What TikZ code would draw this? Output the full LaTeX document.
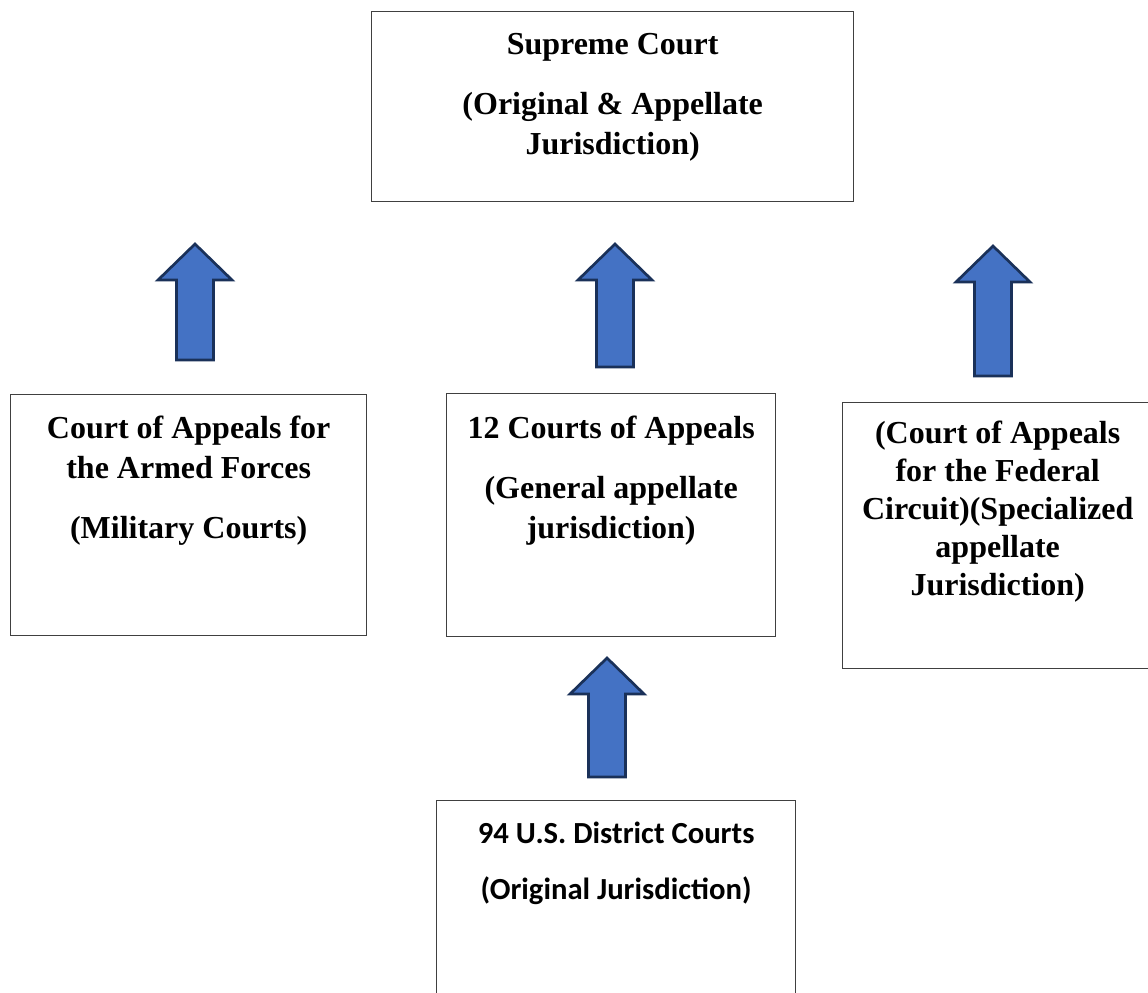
\documentclass[tikz,border=0pt]{standalone}
\usepackage{fontspec}
\setmainfont{Liberation Serif}
\newfontfamily\calibri{Carlito}
\usepackage{xcolor}
\usetikzlibrary{positioning}

\definecolor{arrowfill}{HTML}{4472C4}
\definecolor{arrowline}{HTML}{1A3159}
\definecolor{boxline}{HTML}{404040}

% block arrow pointing up: centre x, tip y, foot y
\newcommand\blockup[3]{%
  \draw[arr] (#1-18.5,#3) -- (#1-18.5,#2+36) -- (#1-37,#2+36) -- (#1,#2)
    -- (#1+37,#2+36) -- (#1+18.5,#2+36) -- (#1+18.5,#3) -- cycle;}

\begin{document}
\begin{tikzpicture}[
  x=0.75pt, y=-0.75pt,
  box/.style={draw=boxline, line width=1pt, anchor=north west, inner sep=0pt},
  txt/.style={align=center, inner sep=0pt, font=\bfseries\fontsize{24}{30}\selectfont},
  arr/.style={draw=arrowline, fill=arrowfill, line width=2pt, line join=miter}
]
\useasboundingbox (0,0) rectangle (1148,992);
\clip (0,0) rectangle (1148,992);

% boxes
\node[box, minimum width=361.5pt, minimum height=142.5pt] (sup) at (371,11) {};
\node[box, minimum width=267pt, minimum height=180.75pt] (mil) at (10,394) {};
\node[box, minimum width=246.75pt, minimum height=182.25pt] (app) at (446,393) {};
\node[box, minimum width=232.5pt, minimum height=199.5pt] (fed) at (842,402) {};
\node[box, minimum width=269.25pt, minimum height=160pt] (dis) at (436,800) {};

% texts
\node[txt, below=16.5pt of sup.north] (supt)
  {Supreme Court\\[15pt](Original \& Appellate\\Jurisdiction)};
\node[txt, below=16.5pt of mil.north] (milt)
  {Court of Appeals for\\the Armed Forces\\[15pt](Military Courts)};
\node[txt, below=17pt of app.north] (appt)
  {12 Courts of Appeals\\[15pt](General appellate\\jurisdiction)};
\node[txt, font=\bfseries\fontsize{24}{28.5}\selectfont, below=14pt of fed.north] (fedt)
  {(Court of Appeals\\for the Federal\\Circuit)(Specialized\\appellate\\Jurisdiction)};
\node[txt, font=\calibri\bfseries\fontsize{23}{28}\selectfont, below=16.5pt of dis.north] (dist)
  {94 U.S. District Courts\\[13.5pt](Original Jurisdiction)};

% arrows
\blockup{195}{244}{360}
\blockup{615}{244}{367}
\blockup{993}{246}{376}
\blockup{607}{658}{777}
\end{tikzpicture}
\end{document}
